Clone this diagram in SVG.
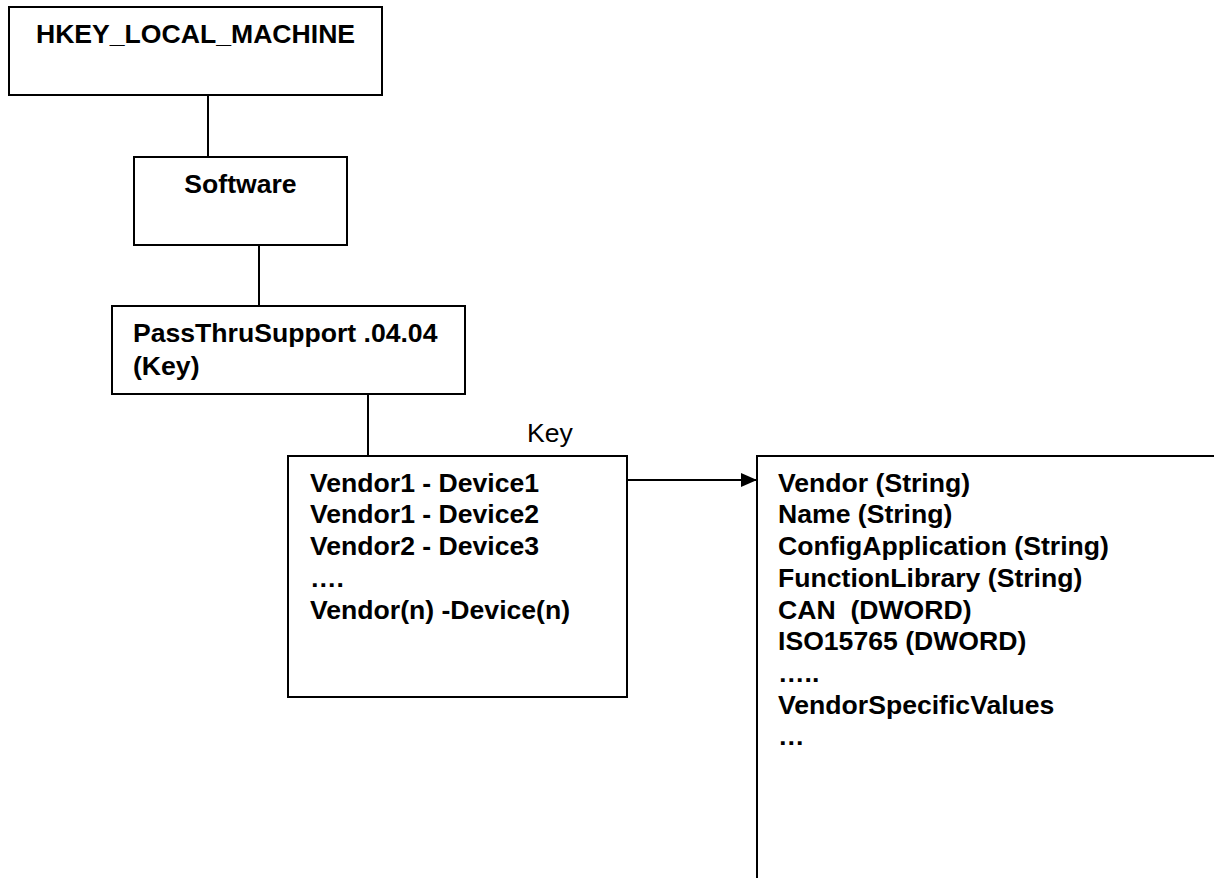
<svg xmlns="http://www.w3.org/2000/svg" width="1214" height="878" viewBox="0 0 1214 878">
<style>
.box{fill:#fff;stroke:#000;stroke-width:2}
.t{font-family:"Liberation Sans",Arial,Helvetica,sans-serif;font-size:26.6px;font-weight:bold;fill:#000}
.r{font-family:"Liberation Sans",Arial,Helvetica,sans-serif;font-size:26.6px;fill:#000}
.c{stroke:#000;stroke-width:2;fill:none}
</style>
<defs>
<marker id="ah" markerWidth="16" markerHeight="14" refX="16" refY="7" orient="auto" markerUnits="userSpaceOnUse">
<path d="M0,0 L16,7 L0,14 Z" fill="#000"/>
</marker>
</defs>
<rect width="1214" height="878" fill="#fff"/>
<g id="connectors">
<line class="c" x1="208" y1="95" x2="208" y2="157"/>
<line class="c" x1="259" y1="245" x2="259" y2="306"/>
<line class="c" x1="368" y1="394" x2="368" y2="456"/>
<line class="c" x1="627" y1="480" x2="757" y2="480" marker-end="url(#ah)"/>
<text class="r" x="550" y="442" text-anchor="middle">Key</text>
</g>
<g id="hklm">
<rect class="box" x="9" y="7" width="373" height="88"/>
<text class="t" x="195.5" y="43" text-anchor="middle">HKEY_LOCAL_MACHINE</text>
</g>
<g id="software">
<rect class="box" x="134" y="157" width="213" height="88"/>
<text class="t" x="240.5" y="193" text-anchor="middle">Software</text>
</g>
<g id="passthru">
<rect class="box" x="112" y="306" width="353" height="88"/>
<text class="t" x="133" y="342">PassThruSupport .04.04</text>
<text class="t" x="133" y="375">(Key)</text>
</g>
<g id="devices">
<rect class="box" x="288" y="456" width="339" height="241"/>
<text class="t" x="310" y="491.7">Vendor1 - Device1</text>
<text class="t" x="310" y="523.4">Vendor1 - Device2</text>
<text class="t" x="310" y="555.1">Vendor2 - Device3</text>
<text class="t" x="310" y="586.8">….</text>
<text class="t" x="310" y="618.5">Vendor(n) -Device(n)</text>
</g>
<g id="values">
<rect class="box" x="757" y="456" width="480" height="440"/>
<text class="t" x="778" y="491.7">Vendor (String)</text>
<text class="t" x="778" y="523.4">Name (String)</text>
<text class="t" x="778" y="555.1">ConfigApplication (String)</text>
<text class="t" x="778" y="586.8">FunctionLibrary (String)</text>
<text class="t" x="778" y="618.5" xml:space="preserve">CAN  (DWORD)</text>
<text class="t" x="778" y="650.2">ISO15765 (DWORD)</text>
<text class="t" x="778" y="681.9">…..</text>
<text class="t" x="778" y="713.6">VendorSpecificValues</text>
<text class="t" x="778" y="745.3">…</text>
</g>
</svg>
